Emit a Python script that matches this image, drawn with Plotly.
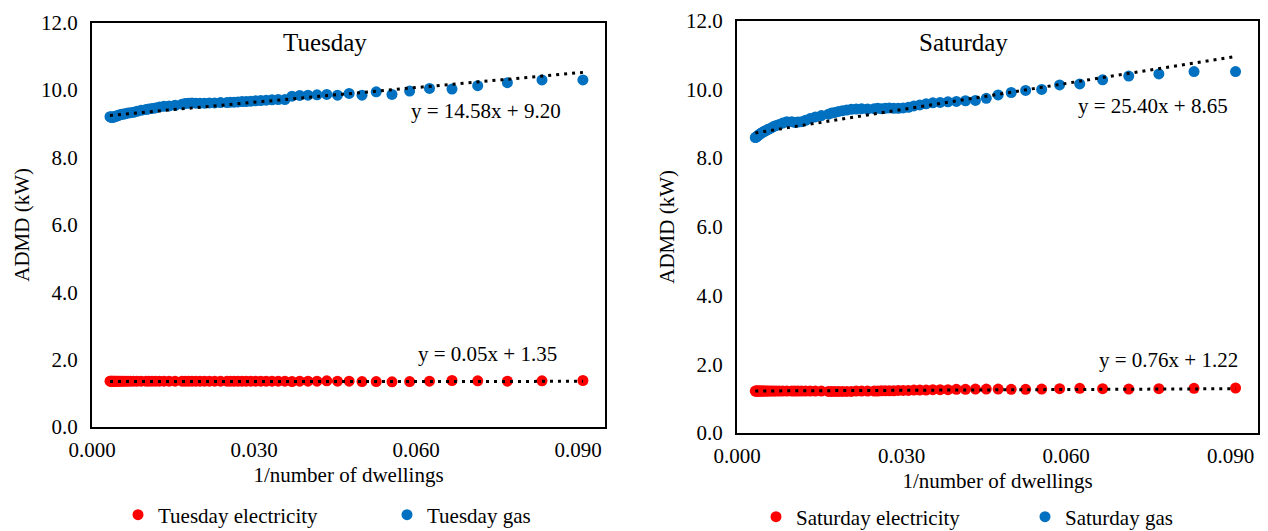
import plotly.graph_objects as go

# ---------------- data ----------------
dwellings = [11, 12, 13, 14, 15, 16, 17, 18, 19, 20, 21, 22, 23, 24, 25, 26, 27, 28, 29, 30,
             31, 32, 33, 34, 35, 36, 37, 38, 39, 40, 42, 44, 46, 48, 50, 52, 54, 56, 58, 60,
             65, 70, 75, 80, 85, 90, 95, 100, 110, 120, 130, 140, 150, 160, 170, 180, 190, 200,
             210, 220, 230, 240, 250, 260, 270, 280, 290, 300]

tue_gas = [10.30, 10.30, 10.22, 10.13, 10.03, 10.05, 9.97, 9.87, 9.95, 9.85, 9.90, 9.85, 9.87, 9.86,
           9.85, 9.84, 9.82, 9.72, 9.72, 9.71, 9.70, 9.69, 9.68, 9.67, 9.66, 9.66, 9.65, 9.64, 9.64,
           9.63, 9.63, 9.62, 9.62, 9.61, 9.61, 9.61, 9.62, 9.61, 9.60, 9.58, 9.55, 9.53, 9.52, 9.50,
           9.47, 9.45, 9.44, 9.42, 9.40, 9.37, 9.34, 9.33, 9.32, 9.30, 9.29, 9.28, 9.27, 9.26, 9.24,
           9.23, 9.22, 9.21, 9.20, 9.19, 9.19, 9.20, 9.20, 9.21]
tue_elec = [1.38, 1.37, 1.36, 1.37, 1.38, 1.36, 1.35, 1.34, 1.35, 1.35, 1.36, 1.36, 1.37, 1.36,
            1.36, 1.36, 1.35, 1.36, 1.36, 1.36, 1.36, 1.36, 1.36, 1.36, 1.36, 1.36, 1.36, 1.36, 1.36,
            1.36, 1.36, 1.36, 1.36, 1.36, 1.36, 1.36, 1.36, 1.36, 1.36, 1.36, 1.36, 1.36, 1.36, 1.36,
            1.36, 1.36, 1.36, 1.36, 1.36, 1.36, 1.36, 1.36, 1.36, 1.36, 1.36, 1.36, 1.36, 1.36, 1.36,
            1.36, 1.36, 1.36, 1.36, 1.36, 1.36, 1.36, 1.36, 1.36]
sat_gas = [10.52, 10.52, 10.45, 10.39, 10.28, 10.16, 10.13, 10.00, 9.97, 9.91, 9.84, 9.74, 9.68, 9.67,
           9.65, 9.64, 9.62, 9.61, 9.58, 9.55, 9.52, 9.48, 9.46, 9.45, 9.45, 9.46, 9.45, 9.44, 9.45,
           9.44, 9.43, 9.44, 9.43, 9.42, 9.40, 9.38, 9.36, 9.33, 9.31, 9.28, 9.24, 9.20, 9.15, 9.10,
           9.06, 9.05, 9.04, 9.06, 9.06, 9.02, 8.98, 8.95, 8.92, 8.88, 8.85, 8.83, 8.80, 8.78, 8.76,
           8.74, 8.72, 8.70, 8.68, 8.66, 8.64, 8.62, 8.61, 8.60]
sat_elec = [1.31, 1.30, 1.29, 1.28, 1.29, 1.30, 1.29, 1.28, 1.27, 1.27, 1.28, 1.28, 1.28, 1.27,
            1.27, 1.26, 1.26, 1.26, 1.25, 1.25, 1.25, 1.24, 1.24, 1.24, 1.23, 1.23, 1.23, 1.23, 1.22,
            1.22, 1.22, 1.22, 1.22, 1.21, 1.21, 1.21, 1.21, 1.21, 1.21, 1.21, 1.22, 1.22, 1.22, 1.22,
            1.22, 1.22, 1.22, 1.22, 1.22, 1.22, 1.22, 1.22, 1.22, 1.22, 1.22, 1.22, 1.22, 1.22, 1.22,
            1.22, 1.22, 1.22, 1.22, 1.22, 1.22, 1.22, 1.22, 1.22]

# trendline coefficients (as printed on the chart)
tue_gas_fit = (14.58, 9.20)
tue_elec_fit = (0.05, 1.35)
sat_gas_fit = (25.40, 8.65)
sat_elec_fit = (0.76, 1.22)

x_vals = [1.0 / n for n in dwellings]

FONT = "Liberation Serif, Times New Roman, serif"
BLUE = "#0070C0"
RED = "#FF0000"

W, H = 1268, 531


def px(x):
    return x / W


def py(y):
    return 1 - y / H


fig = go.Figure()


def add_series(name, ys, color, xa, ya, legend):
    fig.add_trace(go.Scatter(
        x=x_vals, y=ys, mode="markers", name=name,
        marker=dict(color=color, size=11, line=dict(width=0)),
        xaxis=xa, yaxis=ya, legend=legend))


def add_trend(fit, xa, ya):
    a, b = fit
    xs = [min(x_vals), max(x_vals)]
    fig.add_trace(go.Scatter(
        x=xs, y=[a * v + b for v in xs], mode="lines", showlegend=False,
        line=dict(color="black", width=3, dash="3px,5px"),
        xaxis=xa, yaxis=ya, hoverinfo="skip"))


add_series("Tuesday electricity", tue_elec, RED, "x", "y", "legend")
add_series("Tuesday gas", tue_gas, BLUE, "x", "y", "legend")
add_trend(tue_gas_fit, "x", "y")
add_trend(tue_elec_fit, "x", "y")

add_series("Saturday electricity", sat_elec, RED, "x2", "y2", "legend2")
add_series("Saturday gas", sat_gas, BLUE, "x2", "y2", "legend2")
add_trend(sat_gas_fit, "x2", "y2")
add_trend(sat_elec_fit, "x2", "y2")

axis_common = dict(showline=True, linecolor="black", linewidth=2, mirror=True,
                   showgrid=False, zeroline=False, ticks="", automargin=False,
                   tickfont=dict(family=FONT, size=21, color="black"))
xt = dict(text="1/number of dwellings", font=dict(family=FONT, size=21), standoff=6)
yt = dict(text="ADMD (kW)", font=dict(family=FONT, size=21), standoff=6)

fig.update_layout(
    width=W, height=H,
    autosize=False,
    margin=dict(l=0, r=0, t=0, b=0, pad=0, autoexpand=False),
    paper_bgcolor="white", plot_bgcolor="white",
    font=dict(family=FONT, size=21, color="black"),
    xaxis=dict(domain=[px(92), px(605)], range=[0, 0.095], dtick=0.03, tick0=0,
               tickformat=".3f", anchor="y", ticklabelstandoff=3, title=xt, **axis_common),
    yaxis=dict(domain=[py(427), py(22.7)], range=[0, 12], dtick=2, tickformat=".1f",
               anchor="x", ticklabelstandoff=8, title=yt, **axis_common),
    xaxis2=dict(domain=[px(737), px(1258)], range=[0, 0.095], dtick=0.03, tick0=0,
                tickformat=".3f", anchor="y2", ticklabelstandoff=3, title=xt, **axis_common),
    yaxis2=dict(domain=[py(433), py(20.7)], range=[0, 12], dtick=2, tickformat=".1f",
                anchor="x2", ticklabelstandoff=8, title=yt, **axis_common),
    legend=dict(orientation="h", x=px(118), y=py(515), xanchor="left", yanchor="middle",
                font=dict(family=FONT, size=21), entrywidth=224, entrywidthmode="pixels",
                bgcolor="rgba(0,0,0,0)", tracegroupgap=0),
    legend2=dict(orientation="h", x=px(756), y=py(517), xanchor="left", yanchor="middle",
                 font=dict(family=FONT, size=21), entrywidth=224, entrywidthmode="pixels",
                 bgcolor="rgba(0,0,0,0)", tracegroupgap=0),
    showlegend=True,
)

annotations = [
    dict(text="Tuesday", x=px(325), y=py(43), size=25),
    dict(text="Saturday", x=px(963), y=py(43), size=25),
    dict(text="y = 14.58x + 9.20", x=px(486), y=py(111), size=21),
    dict(text="y = 0.05x + 1.35", x=px(487), y=py(354), size=21),
    dict(text="y = 25.40x + 8.65", x=px(1153), y=py(106), size=21),
    dict(text="y = 0.76x + 1.22", x=px(1168), y=py(360), size=21),
]
for a in annotations:
    fig.add_annotation(text=a["text"], x=a["x"], y=a["y"], xref="paper", yref="paper",
                       showarrow=False, xanchor="center", yanchor="middle",
                       font=dict(family=FONT, size=a["size"], color="black"))

# remove the default page margin so the 1268x531 figure fills the window exactly
fig.write_html(
    "out.html",
    config={"displayModeBar": False},
    post_script="document.body.style.margin='0px';"
                "document.documentElement.style.overflow='hidden';"
                "document.body.style.overflow='hidden';",
)
